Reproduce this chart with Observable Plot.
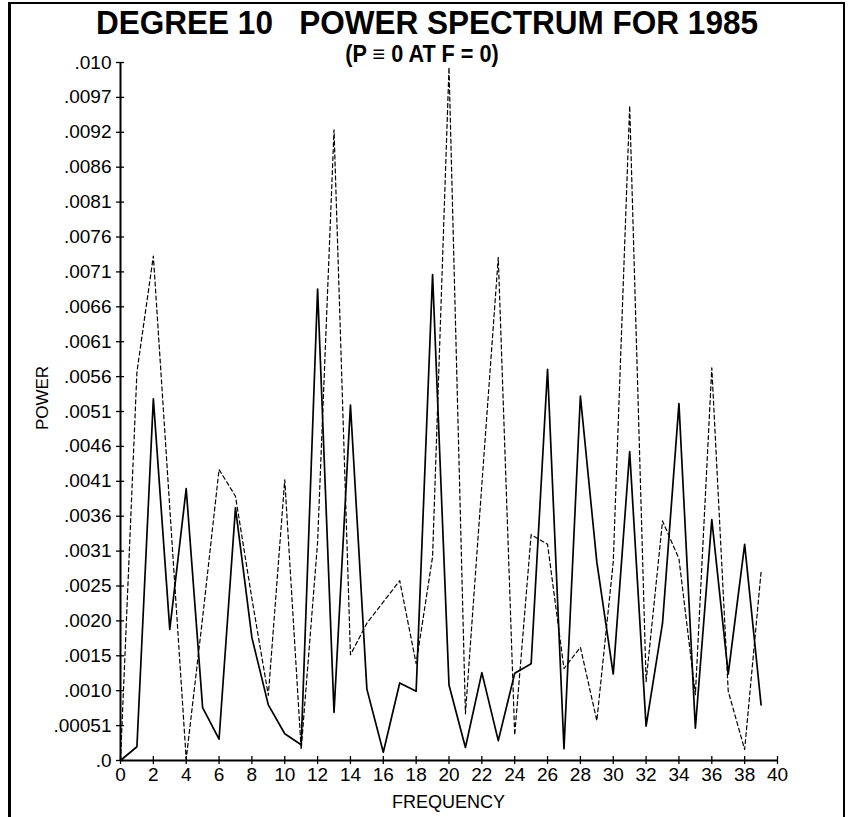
<!DOCTYPE html>
<html>
<head>
<meta charset="utf-8">
<script src="https://cdn.jsdelivr.net/npm/d3@7"></script>
<script src="https://cdn.jsdelivr.net/npm/@observablehq/plot@0.6"></script>
<style>
  html, body { margin: 0; padding: 0; background: #fff; }
  body { width: 848px; height: 817px; overflow: hidden; position: relative; font-family: "Liberation Sans", Arial, Helvetica, sans-serif; color: #000; }
  #frame { position: absolute; left: 8px; top: 2px; width: 832px; height: 840px; border-left: 3px solid #000; border-top: 2px solid #000; border-right: 2px solid #000; z-index: 3; pointer-events: none; }
  #chart { position: absolute; left: 0; top: 50px; }
  .t { position: absolute; text-align: center; font-weight: bold; white-space: pre; z-index: 2; }
  #title { left: 0; width: 854px; top: 6px; font-size: 33px; line-height: 33px; transform: scaleX(0.955); }
  #subtitle { left: 0; width: 844px; top: 42.5px; font-size: 23px; line-height: 23px; transform: scaleX(0.94); }
  #ylabel { position: absolute; left: 42px; top: 398px; font-size: 17px; line-height: 17px; transform: translate(-50%, -50%) rotate(-90deg); white-space: nowrap; z-index: 2; }
  #xlabel { position: absolute; left: 0; width: 897px; top: 793px; font-size: 18px; line-height: 18px; text-align: center; z-index: 2; }
</style>
</head>
<body>
<div id="chart"></div>
<div id="title" class="t">DEGREE 10   POWER SPECTRUM FOR 1985</div>
<div id="subtitle" class="t">(P ≡ 0 AT F = 0)</div>
<div id="ylabel">POWER</div>
<div id="xlabel">FREQUENCY</div>
<div id="frame"></div>
<script>
// Frequencies (categories)
const frequency = [0, 1, 2, 3, 4, 5, 6, 7, 8, 9, 10, 11, 12, 13, 14, 15, 16, 17, 18, 19,
                   20, 21, 22, 23, 24, 25, 26, 27, 28, 29, 30, 31, 32, 33, 34, 35, 36, 37, 38, 39];

// Solid curve (power values)
const powerSolid = [0, 0.00020, 0.00527, 0.00191, 0.00396, 0.00077, 0.00031, 0.00368, 0.00179, 0.00081,
                    0.00039, 0.00023, 0.00687, 0.00070, 0.00518, 0.00104, 0.00012, 0.00113, 0.00101, 0.00708,
                    0.00110, 0.00019, 0.00128, 0.00029, 0.00127, 0.00141, 0.00570, 0.00017, 0.00531, 0.00289,
                    0.00126, 0.00450, 0.00050, 0.00200, 0.00520, 0.00047, 0.00351, 0.00126, 0.00315, 0.00081];

// Dashed curve
const powerDashed = [0, 0.00566, 0.00735, 0.00368, 0.00002, 0.00208, 0.00424, 0.00385, 0.00236, 0.00095,
                     0.00409, 0.00016, 0.00318, 0.00919, 0.00154, 0.00200, 0.00231, 0.00262, 0.00141, 0.00297,
                     0.01010, 0.00068, 0.00402, 0.00733, 0.00037, 0.00329, 0.00315, 0.00134, 0.00165, 0.00058,
                     0.00289, 0.00954, 0.00115, 0.00349, 0.00294, 0.00096, 0.00572, 0.00101, 0.00016, 0.00275];

// Axis ticks
const yMax = 0.01017;
const yTickLabels = [".0", ".00051", ".0010", ".0015", ".0020", ".0025", ".0031", ".0036", ".0041", ".0046",
                     ".0051", ".0056", ".0061", ".0066", ".0071", ".0076", ".0081", ".0086", ".0092", ".0097", ".010"];
const xTicks = [0, 2, 4, 6, 8, 10, 12, 14, 16, 18, 20, 22, 24, 26, 28, 30, 32, 34, 36, 38, 40];

const solid = frequency.map((f, i) => ({f, p: powerSolid[i]}));
const dashed = frequency.map((f, i) => ({f, p: powerDashed[i]}));
const yStep = yMax / (yTickLabels.length - 1);
const yTicks = yTickLabels.map((_, i) => i * yStep);

const plot = Plot.plot({
  width: 848,
  height: 767,
  marginLeft: 120,
  marginRight: 71,
  marginTop: 12,
  marginBottom: 57,
  style: {fontFamily: '"Liberation Sans", Arial, Helvetica, sans-serif', fontSize: "19px", background: "transparent", overflow: "visible", color: "#000"},
  x: {domain: [0, 40]},
  y: {domain: [0, yMax]},
  marks: [
    Plot.axisY({ticks: yTicks, tickFormat: d => yTickLabels[Math.round(d / yStep)], tickSize: 8, dx: 4, tickPadding: 5, label: null, strokeWidth: 1.3}),
    Plot.axisX({ticks: xTicks, tickFormat: d => String(d), tickSize: 8, dy: -4, tickPadding: 3, label: null, strokeWidth: 1.3}),
    Plot.ruleX([0], {stroke: "#000", strokeWidth: 2}),
    Plot.ruleY([0], {stroke: "#000", strokeWidth: 2}),
    Plot.line(dashed, {x: "f", y: "p", stroke: "#000", strokeWidth: 1.2, strokeDasharray: "4,3"}),
    Plot.line(solid, {x: "f", y: "p", stroke: "#000", strokeWidth: 1.7})
  ]
});
document.getElementById("chart").appendChild(plot);
</script>
</body>
</html>
